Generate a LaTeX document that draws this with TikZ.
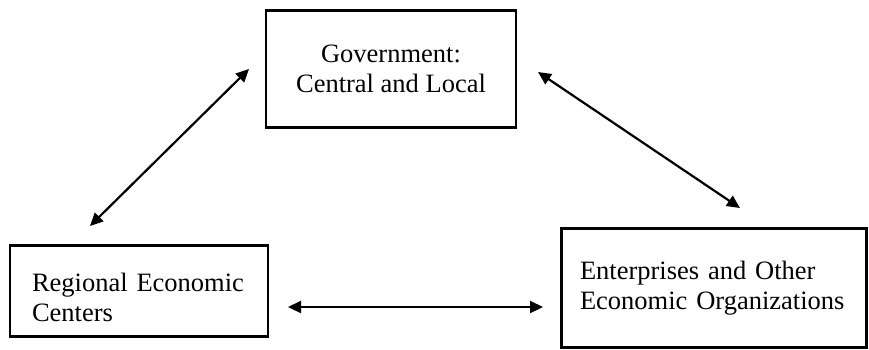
\documentclass[tikz,border=0pt]{standalone}
\usepackage{fontspec}
\setmainfont{Liberation Serif}
\usetikzlibrary{arrows.meta}

\tikzset{
	box/.style={draw, line width=2.6pt, inner sep=0pt, font=\fontsize{26.5}{30}\selectfont},
	link/.style={line width=2.2pt, {Triangle[length=13pt,width=12pt]}-{Triangle[length=13pt,width=12pt]}}
}

\begin{document}
\begin{tikzpicture}[x=1pt, y=-1pt]
		%%%%% START %%%%%
		\useasboundingbox (0, 0) rectangle (869, 349);
		
		\node[box, minimum width=250pt, minimum height=117pt, align=center] (gov) at (391, 69) {Government:\\Central and Local};
		\node[box, minimum width=258pt, minimum height=91pt, text width=214pt, inner xsep=22pt, align=left] (reg) at (139, 291) {\rule{0pt}{32pt}Regional Economic\\Centers};
		\node[box, minimum width=305pt, minimum height=119pt, text width=268pt, inner xsep=18pt, align=left] (ent) at (714, 288) {Enterprises and Other\\Economic Organizations};
		
		\coordinate (reg top) at (90, 226);
		\coordinate (gov left) at (249, 69);
		\coordinate (gov right) at (538, 72);
		\coordinate (ent top) at (740, 208);
		\coordinate (reg right) at (288, 307);
		\coordinate (ent left) at (543, 307);
		
		\draw[link] (reg top) -- (gov left);
		\draw[link] (gov right) -- (ent top);
		\draw[link] (reg right) -- (ent left);
		%%%%% END %%%%%
	\end{tikzpicture}
\end{document}
